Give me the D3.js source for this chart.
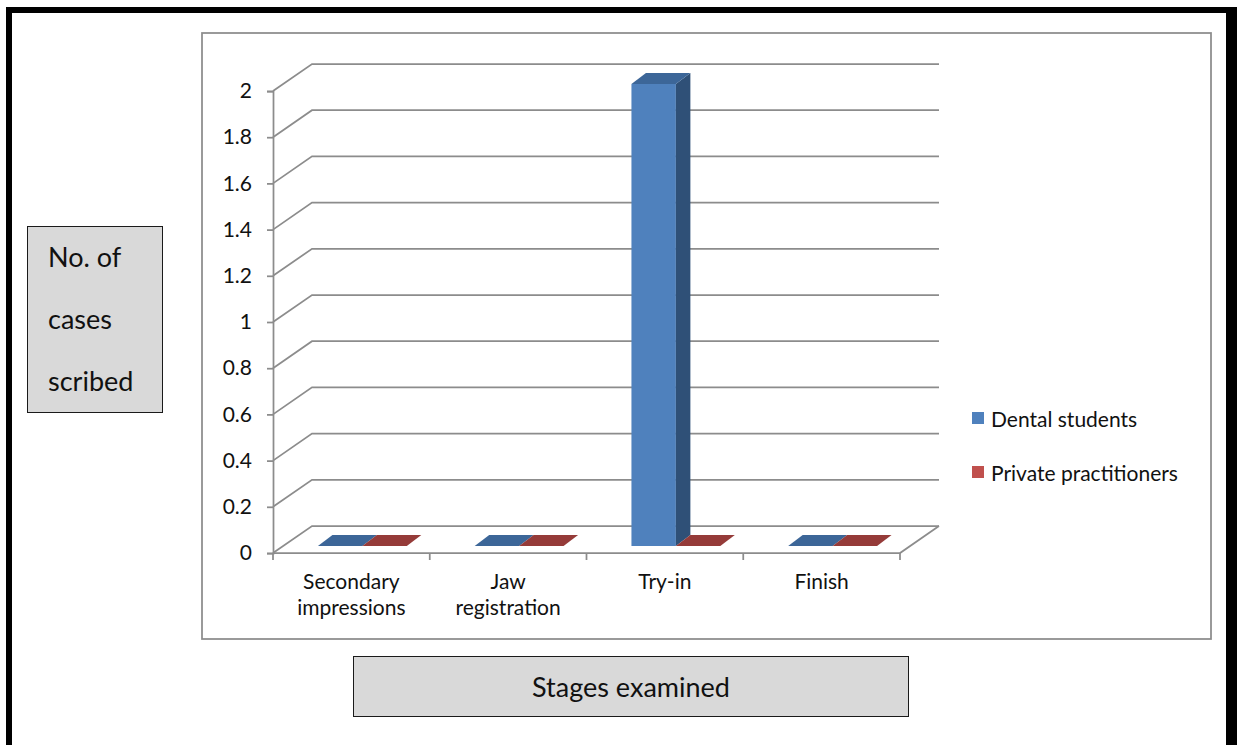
<!DOCTYPE html>
<html>
<head>
<meta charset="utf-8">
<script src="https://cdn.jsdelivr.net/npm/d3@7"></script>
<style>
  html, body { margin: 0; padding: 0; background: #fff; }
  svg { display: block; }
  text { font-family: Lato, "Open Sans", sans-serif; fill: #111; }
</style>
</head>
<body>
<svg id="chart" width="1242" height="745"></svg>
<script>
// Stages and counts of cases scribed per group
const categories = ["Secondary impressions", "Jaw registration", "Try-in", "Finish"];
const seriesNames = ["Dental students", "Private practitioners"];
const dentalStudents = [0, 0, 2, 0];
const privatePractitioners = [0, 0, 0, 0];
const yTicks = [0, 0.2, 0.4, 0.6, 0.8, 1, 1.2, 1.4, 1.6, 1.8, 2];
const yTitleLines = ["No. of", "cases", "scribed"];
const xTitle = "Stages examined";

const seriesValues = [dentalStudents, privatePractitioners];
const palette = {
  "Dental students": { front: "#4F81BD", top: "#3C6698", side: "#2F5077" },
  "Private practitioners": { front: "#C0504D", top: "#953B39", side: "#7A2E2C" }
};

const svg = d3.select("#chart");
const gridColor = "#8c8c8c";

// outer black frame (runs past the bottom edge)
svg.append("rect")
  .attr("x", 9).attr("y", 10).attr("width", 1222).attr("height", 800)
  .attr("fill", "none").attr("stroke", "#000").attr("stroke-width", 6);
svg.append("rect")
  .attr("x", 1226).attr("y", 7).attr("width", 11).attr("height", 745)
  .attr("fill", "#000");

// chart area border
svg.append("rect")
  .attr("x", 202).attr("y", 33).attr("width", 1009).attr("height", 606)
  .attr("fill", "#fff").attr("stroke", gridColor).attr("stroke-width", 1.75);

// plot geometry: front plane and depth offset of the back wall
const x0 = 273, x1 = 900;
const depthX = 39, depthY = -27;

const x = d3.scaleBand().domain(categories).range([x0, x1]).paddingInner(0).paddingOuter(0);
const xs = d3.scaleBand().domain(seriesNames).range([0, x.bandwidth()]).paddingInner(0).paddingOuter(0.764);
const y = d3.scaleLinear().domain([0, 2]).range([553, 91]);

const plot = svg.append("g");

// gridlines: diagonal on the side wall then across the back wall
plot.append("g").selectAll("path")
  .data(yTicks)
  .join("path")
  .attr("d", d => {
    const yy = y(d);
    return `M${x0},${yy}L${x0 + depthX},${yy + depthY}L${x1 + depthX},${yy + depthY}`;
  })
  .attr("fill", "none").attr("stroke", gridColor).attr("stroke-width", 1.75);

// floor front edge and right edge
plot.append("path")
  .attr("d", `M${x0},${y(0)}L${x1},${y(0)}L${x1 + depthX},${y(0) + depthY}`)
  .attr("fill", "none").attr("stroke", gridColor).attr("stroke-width", 1.75);

// y axis
const yAxis = plot.append("g")
  .attr("transform", `translate(${x0},0)`)
  .call(d3.axisLeft(y).tickValues(yTicks).tickSize(6).tickPadding(15)
    .tickFormat(d => String(+d.toFixed(1))));
yAxis.select(".domain").attr("stroke", gridColor).attr("stroke-width", 1.75);
yAxis.selectAll(".tick line").attr("stroke", gridColor).attr("stroke-width", 1.75);
yAxis.selectAll(".tick text")
  .attr("font-family", "Lato, 'Open Sans', sans-serif")
  .attr("font-size", 21).attr("fill", "#111");

// category ticks at band boundaries
const boundaries = categories.map(c => x(c)).concat([x1]);
plot.append("g").selectAll("line")
  .data(boundaries)
  .join("line")
  .attr("x1", d => d).attr("x2", d => d)
  .attr("y1", y(0)).attr("y2", y(0) + 7)
  .attr("stroke", gridColor).attr("stroke-width", 1.75);

// category labels
const catLabels = plot.append("g");
categories.forEach(c => {
  const words = c.split(" ");
  const t = catLabels.append("text")
    .attr("x", x(c) + x.bandwidth() / 2)
    .attr("y", 589)
    .attr("text-anchor", "middle")
    .attr("font-size", 21);
  words.forEach((w, i) => {
    t.append("tspan")
      .attr("x", x(c) + x.bandwidth() / 2)
      .attr("dy", i === 0 ? 0 : 26)
      .text(w);
  });
});

// 3D bars: front face offset into the depth, then top and side faces
const barDX0 = 11, barDY0 = -7;   // front face offset from the front plane
const barDX = 14.5, barDY = -11;  // bar depth
const bars = [];
categories.forEach((c, i) => {
  seriesNames.forEach((s, j) => {
    bars.push({ cat: c, series: s, value: seriesValues[j][i] });
  });
});

const barG = plot.append("g");
bars.forEach(b => {
  const left = x(b.cat) + xs(b.series) + barDX0;
  const right = left + xs.bandwidth();
  const base = y(0) + barDY0;
  const topY = y(b.value) + barDY0;
  const col = palette[b.series];
  const g = barG.append("g");
  if (b.value > 0) {
    g.append("rect")
      .attr("x", left).attr("y", topY)
      .attr("width", right - left).attr("height", base - topY)
      .attr("fill", col.front);
    g.append("path")
      .attr("d", `M${right},${topY}L${right + barDX},${topY + barDY}L${right + barDX},${base + barDY}L${right},${base}Z`)
      .attr("fill", col.side);
  }
  g.append("path")
    .attr("d", `M${left},${topY}L${left + barDX},${topY + barDY}L${right + barDX},${topY + barDY}L${right},${topY}Z`)
    .attr("fill", col.top);
});

// legend
const legend = svg.append("g");
seriesNames.forEach((s, i) => {
  const cy = 418 + i * 54;
  legend.append("rect")
    .attr("x", 972).attr("y", cy - 6).attr("width", 12).attr("height", 12)
    .attr("fill", palette[s].front);
  legend.append("text")
    .attr("x", 991).attr("y", cy)
    .attr("dominant-baseline", "central")
    .attr("font-size", 21)
    .text(s);
});

// y axis title box
svg.append("rect")
  .attr("x", 27.5).attr("y", 226.5).attr("width", 135).attr("height", 186)
  .attr("fill", "#D9D9D9").attr("stroke", "#1a1a1a").attr("stroke-width", 1);
yTitleLines.forEach((line, i) => {
  svg.append("text")
    .attr("x", 48).attr("y", 256 + i * 62)
    .attr("dominant-baseline", "central")
    .attr("font-size", 27)
    .text(line);
});

// x axis title box
svg.append("rect")
  .attr("x", 353.5).attr("y", 656.5).attr("width", 555).attr("height", 60)
  .attr("fill", "#D9D9D9").attr("stroke", "#1a1a1a").attr("stroke-width", 1);
svg.append("text")
  .attr("x", 631).attr("y", 686)
  .attr("text-anchor", "middle").attr("dominant-baseline", "central")
  .attr("font-size", 27)
  .text(xTitle);
</script>
</body>
</html>
